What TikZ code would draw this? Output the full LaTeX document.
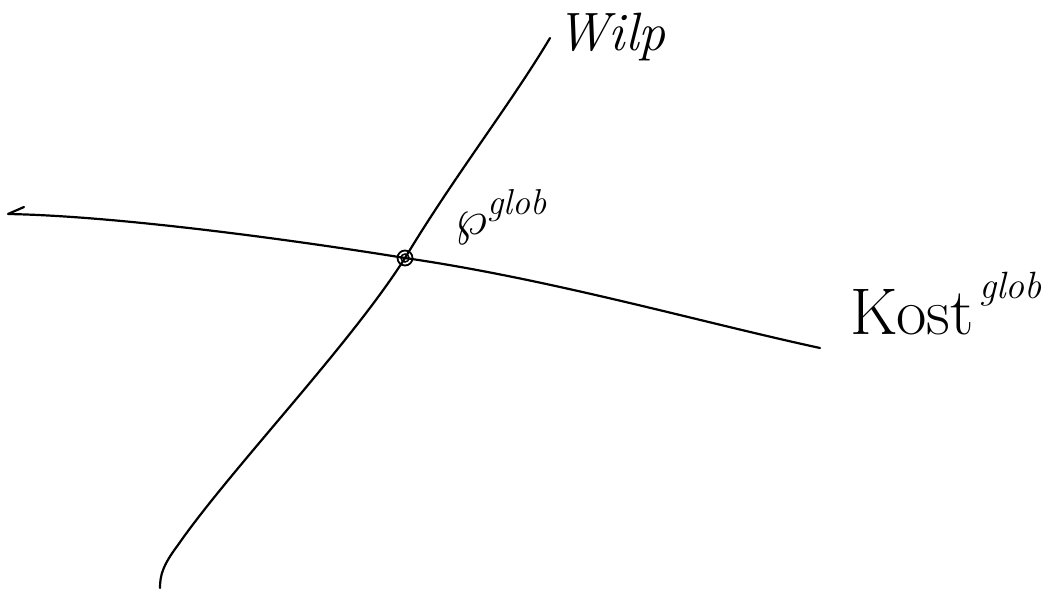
\documentclass[tikz,border=0pt]{standalone}
\usepackage{graphicx}
\usepackage{fontspec}
\begin{document}
\begin{tikzpicture}[x=1pt,y=-1pt,
  curve/.style={line width=2.2pt,line cap=round,line join=round},
  lbl/.style={inner sep=0pt,anchor=base west},
  dotmark/.style={circle,draw,line width=1.8pt,minimum size=15pt,inner sep=0pt}]
\useasboundingbox (0,0) rectangle (1060,589);
% named points
\coordinate (hl) at (8,214);
\coordinate (htick) at (24,207);
\coordinate (hr) at (820,348);
\coordinate (vt) at (550,38);
\coordinate (vb) at (160,588);
\node[dotmark] (c) at (405,258) {};
% horizontal curve (Kost)
\draw[curve] (htick) -- (hl) .. controls (120,216) and (300,241) .. (c.center)
  .. controls (550,279) and (700,322) .. (hr);
% steep curve (Wilp)
\draw[curve] (vt) .. controls (510,105) and (455,175) .. (c.center)
  .. controls (350,345) and (230,470) .. (178,545)
  .. controls (163,565) and (160,575) .. (vb);
\draw[line width=1.5pt] (c.center) circle (4pt);
% labels
\node[lbl] (wilp) at (556,50) {\fontsize{54}{54}\selectfont\itshape Wilp};
\node[lbl] (pglob) at (455,234) {\scalebox{5}{$\wp$}\raisebox{20pt}{\fontsize{36}{36}\selectfont\itshape glob}};
\node[lbl] (kost) at (850,334) {\fontsize{66}{66}\selectfont Kost\hspace{6pt}\raisebox{36pt}{\fontsize{38}{38}\selectfont\itshape glob}};
\end{tikzpicture}
\end{document}
